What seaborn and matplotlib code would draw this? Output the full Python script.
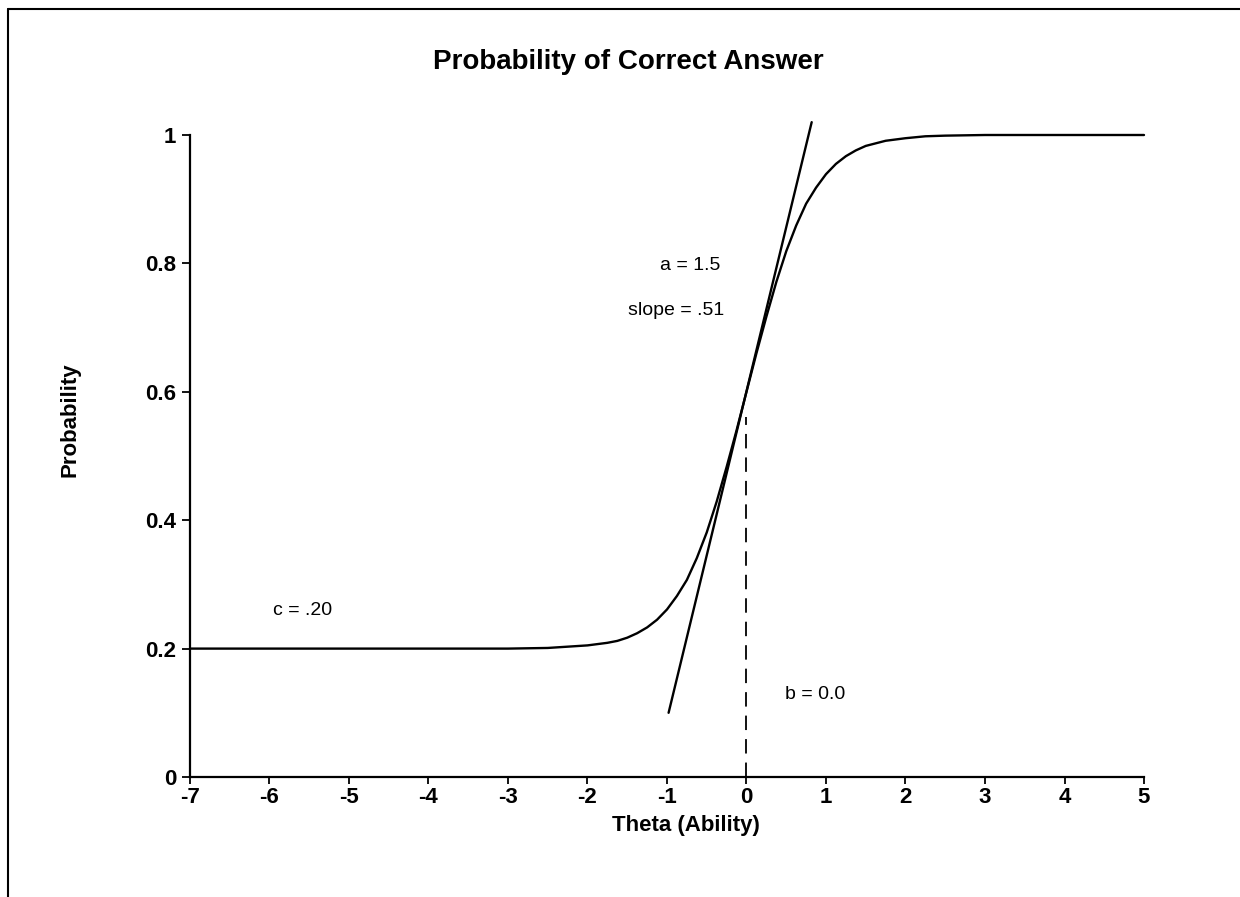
import matplotlib
matplotlib.use("Agg")
import matplotlib.pyplot as plt
import seaborn as sns
from matplotlib.lines import Line2D

# ── Data ──────────────────────────────────────────────────────────────────────
theta = [-7, -3, -2.5, -2.25, -2, -1.75, -1.625, -1.5, -1.375, -1.25, -1.125,
         -1, -0.875, -0.75, -0.625, -0.5, -0.375, -0.25, -0.125,
         0, 0.125, 0.25, 0.375, 0.5, 0.625, 0.75, 0.875, 1, 1.125,
         1.25, 1.375, 1.5, 1.625, 1.75, 2, 2.25, 2.5, 3, 5]
prob = [0.200, 0.200, 0.201, 0.203, 0.205, 0.209, 0.212, 0.217, 0.224, 0.233, 0.245,
        0.261, 0.282, 0.307, 0.341, 0.381, 0.429, 0.483, 0.540,
        0.600, 0.660, 0.717, 0.771, 0.819, 0.859, 0.893, 0.918, 0.939, 0.955,
        0.967, 0.976, 0.983, 0.987, 0.991, 0.995, 0.998, 0.999, 1.0, 1.0]

tangent_x = [-0.98, 0.82]
tangent_y = [0.10, 1.02]

b_line_x = [0, 0]
b_line_y = [0, 0.56]

x_ticks = [-7, -6, -5, -4, -3, -2, -1, 0, 1, 2, 3, 4, 5]
x_tick_labels = ["-7", "-6", "-5", "-4", "-3", "-2", "-1", "0", "1", "2", "3", "4", "5"]
y_ticks = [0, 0.2, 0.4, 0.6, 0.8, 1]
y_tick_labels = ["0", "0.2", "0.4", "0.6", "0.8", "1"]

notes = ["a = 1.5", "slope = .51", "c = .20", "b = 0.0"]
note_x = [-0.71, -0.89, -5.58, 0.86]
note_y = [0.797, 0.727, 0.26, 0.128]

# ── Style ─────────────────────────────────────────────────────────────────────
sns.set_style("white")
plt.rcParams["font.family"] = ["Liberation Sans", "DejaVu Sans"]
plt.rcParams["text.color"] = "black"
plt.rcParams["axes.labelcolor"] = "black"
plt.rcParams["xtick.color"] = "black"
plt.rcParams["ytick.color"] = "black"

fig = plt.figure(figsize=(12.4, 8.97), dpi=100)
ax = fig.add_axes([190 / 1240, 1 - 777 / 897, 954 / 1240, 642 / 897])

sns.lineplot(x=theta, y=prob, ax=ax, color="black", linewidth=1.7,
             sort=False, estimator=None, clip_on=False)
sns.lineplot(x=tangent_x, y=tangent_y, ax=ax, color="black", linewidth=1.7,
             sort=False, estimator=None, clip_on=False)
sns.lineplot(x=b_line_x, y=b_line_y, ax=ax, color="black", linewidth=1.3,
             sort=False, estimator=None, dashes=False, linestyle=(0, (8, 5)))

ax.set_xlim(-7, 5)
ax.set_ylim(0, 1)
ax.set_xticks(x_ticks)
ax.set_xticklabels(x_tick_labels, fontsize=16, fontweight="bold")
ax.set_yticks(y_ticks)
ax.set_yticklabels(y_tick_labels, fontsize=16, fontweight="bold")
ax.tick_params(axis="x", direction="out", length=5, width=1.3, pad=2, bottom=True)
ax.tick_params(axis="y", direction="out", length=6, width=1.3, pad=4, left=True)

sns.despine(ax=ax)
for side in ["left", "bottom"]:
    ax.spines[side].set_linewidth(1.6)
    ax.spines[side].set_color("black")

ax.set_xlabel("Theta (Ability)", fontsize=16, fontweight="bold")
ax.xaxis.set_label_coords(0.52, -0.059)
ax.set_ylabel("Probability", fontsize=16, fontweight="bold")
ax.yaxis.set_label_coords(-0.126, 0.556)
ax.yaxis.label.set_verticalalignment("center")

for txt, tx, ty in zip(notes, note_x, note_y):
    ax.text(tx, ty, txt, ha="center", va="center", fontsize=14)

fig.text(628 / 1240, 1 - 62 / 897, "Probability of Correct Answer",
         ha="center", va="center", fontsize=20, fontweight="bold")

# scanned page frame (top and left edges)
fig.add_artist(Line2D([8 / 1240, 1], [1 - 9 / 897, 1 - 9 / 897],
                      transform=fig.transFigure, color="black", linewidth=1.5))
fig.add_artist(Line2D([8 / 1240, 8 / 1240], [0, 1 - 9 / 897],
                      transform=fig.transFigure, color="black", linewidth=1.5))

fig.savefig("out.png", dpi=100)
